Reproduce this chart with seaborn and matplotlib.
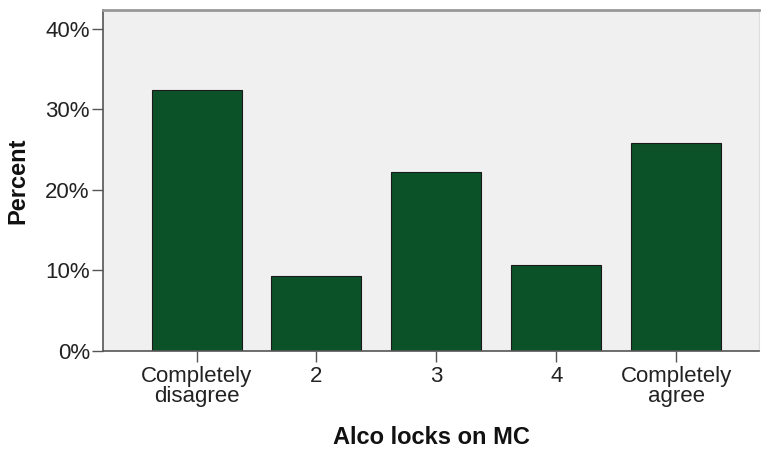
import matplotlib
matplotlib.use("Agg")
import matplotlib.pyplot as plt
import seaborn as sns
import pandas as pd
from matplotlib.ticker import FuncFormatter

categories = ["Completely\ndisagree", "2", "3", "4", "Completely\nagree"]
percent = [32.4, 9.3, 22.2, 10.6, 25.8]
yticks = [0, 10, 20, 30, 40]

sns.set_theme(style="white")
plt.rcParams['font.family'] = ['Liberation Sans', 'DejaVu Sans']

df = pd.DataFrame({"cat": categories, "pct": percent})

fig = plt.figure(figsize=(7.63, 4.5), dpi=100)
ax = fig.add_axes([103/763, 1-350.7/450, (759-103)/763, (350.7-10)/450])
ax.set_facecolor("#f0f0f0")

sns.barplot(data=df, x="cat", y="pct", order=categories, color="#0b5229",
            saturation=1, width=0.75, edgecolor="#1a1a1a", linewidth=0.8, ax=ax)

ax.set_xlim(-0.78, 4.69)
ax.set_ylim(0, 42.3)
ax.set_yticks(yticks)
ax.yaxis.set_major_formatter(FuncFormatter(lambda v, p: f"{int(v)}%"))
ax.tick_params(axis="both", which="major", length=8, width=1, color="#555555",
               labelsize=16, labelcolor="#222222", pad=1.5)
ax.tick_params(axis="y", left=True)
ax.tick_params(axis="x", bottom=True, pad=3)

for side in ["left", "bottom"]:
    ax.spines[side].set_color("#555555")
    ax.spines[side].set_linewidth(1.2)
ax.spines["top"].set_color("#999999")
ax.spines["top"].set_linewidth(2)
ax.spines["right"].set_color("#dddddd")
ax.spines["right"].set_linewidth(0.8)

ax.set_xlabel("Alco locks on MC", fontsize=17, fontweight="bold", color="#111111")
ax.set_ylabel("Percent", fontsize=17, fontweight="bold", color="#111111")
ax.xaxis.set_label_coords(0.5, -(438 - 350.7) / 340.7, transform=ax.transAxes)
ax.xaxis.label.set_va("center")
ax.yaxis.set_label_coords((18 - 103) / 656, 0.5, transform=ax.transAxes)
ax.yaxis.label.set_va("center")

for lbl in ax.get_xticklabels():
    lbl.set_linespacing(0.95)

fig.savefig("out.png", dpi=100)
